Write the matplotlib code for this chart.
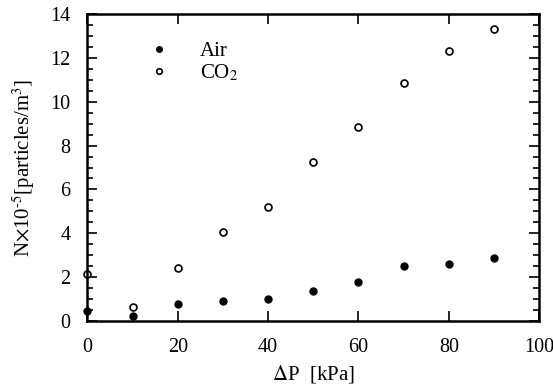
import matplotlib
matplotlib.use("Agg")
import matplotlib.pyplot as plt
from matplotlib.ticker import MultipleLocator

# pressure difference [kPa]
dp = [0, 10, 20, 30, 40, 50, 60, 70, 80, 90]
# particle number, N x 10^-5 [particles/m^3]
air = [0.49, 0.25, 0.78, 0.93, 1.01, 1.40, 1.81, 2.51, 2.61, 2.89]
co2 = [2.16, 0.65, 2.42, 4.07, 5.19, 7.25, 8.83, 10.84, 12.31, 13.31]

plt.rcParams['font.family'] = ['Liberation Serif', 'DejaVu Serif']
plt.rcParams['mathtext.fontset'] = 'stix'

fig = plt.figure(figsize=(5.53, 3.9), dpi=100)
ax = fig.add_axes([0.158, 0.176, 0.817, 0.789])

ax.plot(dp, air, 'o', color='black', markersize=5, clip_on=False, label='Air')
ax.plot(dp, co2, 'o', markerfacecolor='white', markeredgecolor='black',
        markeredgewidth=1.2, markersize=5, clip_on=False, label='CO$_2$')

ax.set_xlim(0, 100)
ax.set_ylim(0, 14)
ax.xaxis.set_major_locator(MultipleLocator(20))
ax.yaxis.set_major_locator(MultipleLocator(2))
ax.yaxis.set_minor_locator(MultipleLocator(0.5))
ax.tick_params(which='both', direction='in', top=True, right=True,
               labelsize=14.5, width=1.2)
ax.tick_params(axis='x', pad=12)
ax.tick_params(axis='y', pad=12)
ax.tick_params(which='major', length=7)
ax.tick_params(which='minor', length=4)
for s in ax.spines.values():
    s.set_linewidth(1.8)

ax.set_xlabel('$\\Delta$P  [kPa]', fontsize=15, labelpad=4)
ax.set_ylabel('N$\\times$10$^{\\text{-}5}$[particles/m$^{3}$]', fontsize=15,
              labelpad=10)

ax.legend(loc='upper left', bbox_to_anchor=(0.07, 0.97), frameon=False,
          fontsize=15, markerscale=0.8, handletextpad=1.0, labelspacing=0.05)

fig.savefig('out.png', dpi=100)
